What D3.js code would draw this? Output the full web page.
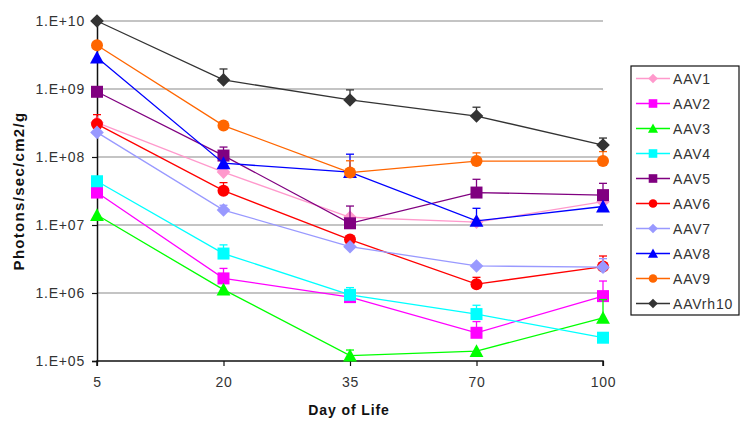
<!DOCTYPE html>
<html><head><meta charset="utf-8">
<script src="https://cdn.jsdelivr.net/npm/d3@7"></script>
<style>
body{margin:0;background:#fff;}
svg{display:block;font-family:"Liberation Sans",Arial,sans-serif;}
</style></head>
<body>
<svg id="chart" width="750" height="426"></svg>
<script>
const days = ["5", "20", "35", "70", "100"];
const seriesNames = ["AAV1","AAV2","AAV3","AAV4","AAV5","AAV6","AAV7","AAV8","AAV9","AAVrh10"];
const AAV1 = [3.2e8, 6.0e7, 1.3e7, 1.1e7, 2.2e7];
const AAV2 = [3.0e7, 1.64e6, 8.7e5, 2.6e5, 9.0e5];
const AAV3 = [1.4e7, 1.12e6, 1.2e5, 1.4e5, 4.3e5];
const AAV4 = [4.4e7, 3.8e6, 9.4e5, 4.9e5, 2.2e5];
const AAV5 = [9.1e8, 1.05e8, 1.06e7, 3.0e7, 2.75e7];
const AAV6 = [3.05e8, 3.2e7, 6.1e6, 1.35e6, 2.45e6];
const AAV7 = [2.3e8, 1.66e7, 4.8e6, 2.5e6, 2.4e6];
const AAV8 = [2.9e9, 8.1e7, 6.0e7, 1.15e7, 1.87e7];
const AAV9 = [4.4e9, 2.9e8, 5.9e7, 8.7e7, 8.7e7];
const AAVrh10 = [1.0e10, 1.36e9, 6.9e8, 4.0e8, 1.5e8];
// upper ends of error bars (null = none visible)
const AAV1_err = [null, null, null, null, null];
const AAV2_err = [null, 2.3e6, null, 3.8e5, 1.5e6];
const AAV3_err = [null, null, 1.45e5, null, 8.0e5];
const AAV4_err = [null, 5.1e6, 1.2e6, 6.6e5, null];
const AAV5_err = [null, 1.4e8, 1.9e7, 4.7e7, 4.1e7];
const AAV6_err = [4.2e8, 4.2e7, null, 1.7e6, 3.5e6];
const AAV7_err = [null, 1.95e7, null, null, 3.2e6];
const AAV8_err = [null, null, 1.1e8, 1.76e7, null];
const AAV9_err = [null, null, 8.8e7, 1.15e8, 1.2e8];
const AAVrh10_err = [null, 1.97e9, 9.7e8, 5.4e8, 1.9e8];
const yTicks = [1e5, 1e6, 1e7, 1e8, 1e9, 1e10];

const values = [AAV1, AAV2, AAV3, AAV4, AAV5, AAV6, AAV7, AAV8, AAV9, AAVrh10];
const errs = [AAV1_err, AAV2_err, AAV3_err, AAV4_err, AAV5_err, AAV6_err, AAV7_err, AAV8_err, AAV9_err, AAVrh10_err];
const colors = ["#ff99cc","#ff00ff","#00ff00","#00ffff","#800080","#ff0000","#9999ff","#0000ff","#ff6600","#333333"];
const shapes = ["diamond","square","triangle","square","square","circle","diamond","triangle","circle","diamond"];

const svg = d3.select("#chart");
const x = d3.scalePoint().domain(days).range([97, 603]);
const y = d3.scaleLog().domain([1e5, 1e10]).range([361, 21]);

// gridlines
svg.append("g").selectAll("line").data(yTicks.slice(1)).join("line")
  .attr("x1", 97).attr("x2", 603)
  .attr("y1", d => y(d)).attr("y2", d => y(d))
  .attr("stroke", "#8a8a8a").attr("stroke-width", 1.2);

// axes
const fmt = d => "1.E+" + String(Math.round(Math.log10(d))).padStart(2, "0");
const yAxis = svg.append("g").attr("transform", "translate(97,0)")
  .call(d3.axisLeft(y).tickValues(yTicks).tickFormat(fmt).tickSize(5).tickPadding(7));
const xAxis = svg.append("g").attr("transform", "translate(0,361)")
  .call(d3.axisBottom(x).tickSize(5).tickPadding(11));
[yAxis, xAxis].forEach(a => {
  a.select(".domain").attr("stroke", "#111").attr("stroke-width", 1.5);
  a.selectAll(".tick line").attr("stroke", "#111").attr("stroke-width", 1.2);
  a.selectAll("text").attr("font-size", 14).attr("fill", "#333")
    .attr("font-family", "'Liberation Sans',Arial,sans-serif").attr("letter-spacing", 0.8);
});
xAxis.select(".domain").attr("d", "M97,5V0H603V5");

// symbol helper
function symbolPath(shape, r) {
  if (shape === "diamond") return `M0,${-r}L${r},0L0,${r}L${-r},0Z`;
  if (shape === "square") return `M${-r},${-r}H${r}V${r}H${-r}Z`;
  if (shape === "triangle") return `M0,${-r * 1.05}L${r * 1.05},${r * 0.9}H${-r * 1.05}Z`;
  return d3.arc()({innerRadius: 0, outerRadius: r, startAngle: 0, endAngle: 2 * Math.PI});
}
const sizeMain = {diamond: 6.8, square: 6, triangle: 6.6, circle: 6};
const sizeLeg = {diamond: 4.8, square: 4.3, triangle: 4.8, circle: 4.3};

const line = d3.line().x((d, i) => x(days[i])).y(d => y(d));

values.forEach((vals, si) => {
  const g = svg.append("g");
  const c = colors[si];
  // error bars
  errs[si].forEach((e, i) => {
    if (e == null) return;
    const cx = x(days[i]);
    g.append("line").attr("x1", cx).attr("x2", cx).attr("y1", y(vals[i])).attr("y2", y(e))
      .attr("stroke", c).attr("stroke-width", 1.3);
    g.append("line").attr("x1", cx - 4).attr("x2", cx + 4).attr("y1", y(e)).attr("y2", y(e))
      .attr("stroke", c).attr("stroke-width", 1.3);
  });
  g.append("path").attr("d", line(vals)).attr("fill", "none")
    .attr("stroke", c).attr("stroke-width", 1.3);
  g.selectAll("path.m").data(vals).join("path").attr("class", "m")
    .attr("d", symbolPath(shapes[si], sizeMain[shapes[si]]))
    .attr("transform", (d, i) => `translate(${x(days[i])},${y(d)})`)
    .attr("fill", c);
});

// axis titles
svg.append("text").attr("x", 349).attr("y", 415).attr("text-anchor", "middle")
  .attr("font-size", 14).attr("font-weight", "bold").attr("letter-spacing", 0.9).attr("fill", "#111")
  .text("Day of Life");
svg.append("text").attr("transform", "translate(24,191) rotate(-90)").attr("text-anchor", "middle")
  .attr("font-size", 15).attr("font-weight", "bold").attr("letter-spacing", 1.3).attr("fill", "#111")
  .text("Photons/sec/cm2/g");

// legend
const lg = svg.append("g");
lg.append("rect").attr("x", 631).attr("y", 66).attr("width", 108).attr("height", 249)
  .attr("fill", "#fff").attr("stroke", "#111").attr("stroke-width", 1.2);
seriesNames.forEach((n, i) => {
  const ly = 78.5 + i * 25;
  lg.append("line").attr("x1", 636).attr("x2", 670).attr("y1", ly).attr("y2", ly)
    .attr("stroke", colors[i]).attr("stroke-width", 1.3);
  lg.append("path").attr("d", symbolPath(shapes[i], sizeLeg[shapes[i]])).attr("transform", `translate(653,${ly})`)
    .attr("fill", colors[i]);
  lg.append("text").attr("x", 673).attr("y", ly + 5).attr("font-size", 14).attr("letter-spacing", 0.8)
    .attr("fill", "#333").text(n);
});
</script>
</body></html>
